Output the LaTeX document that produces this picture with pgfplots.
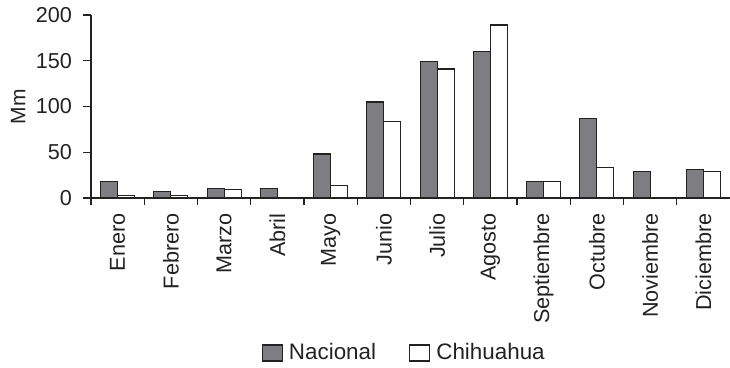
\documentclass[border=0pt]{standalone}
\usepackage{fontspec}
\setmainfont{Liberation Sans}
\usepackage{pgfplots}
\pgfplotsset{compat=1.18}
\definecolor{nacgray}{HTML}{7E7E82}
\definecolor{edge}{HTML}{222222}
\begin{document}
\begin{tikzpicture}
\begin{axis}[
  name=ax, at={(0,0)}, anchor=south west,
  scale only axis, width=319.5pt, height=91.5pt,
  ybar=0pt, bar width=8.5pt,
  xmin=-0.5, xmax=11.5, ymin=0, ymax=200,
  axis lines=left,
  axis line style={-, draw=edge, line width=0.6pt},
  every tick/.style={draw=edge, line width=0.6pt},
  tick align=outside,
  major tick length=4pt, minor tick length=3.5pt,
  xtick={0,...,11},
  xticklabels={Enero,Febrero,Marzo,Abril,Mayo,Junio,Julio,Agosto,Septiembre,Octubre,Noviembre,Diciembre},
  major x tick style={draw=none},
  minor xtick={-0.5,0.5,...,10.5},
  ytick={0,50,100,150,200},
  /pgf/number format/assume math mode=true,
  tick label style={font=\fontsize{10.8}{12}\selectfont, text=edge},
  xticklabel style={rotate=90, anchor=east, inner sep=0pt},
  xticklabel shift=3.5pt,
  yticklabel shift=2pt,
  ylabel={Mm},
  ylabel style={font=\fontsize{10.5}{12}\selectfont, text=edge, at={(axis description cs:-0.114,0.5)}, anchor=center},
  legend columns=2,
  legend style={draw=none, font=\fontsize{11.2}{12}\selectfont, text=edge,
    at={(axis description cs:0.491,-0.847)}, anchor=center,
    /tikz/every odd column/.append style={column sep=1.5pt},
    /tikz/every even column/.append style={column sep=15pt},
    nodes={inner sep=1.5pt}},
  legend image code/.code={\draw[#1, bar shift=0pt] (0pt,-4pt) rectangle (10pt,4pt);},
]
\addplot[fill=nacgray, draw=edge, line width=0.6pt] coordinates {
  (0,18) (1,7) (2,10.5) (3,10.5) (4,48) (5,105)
  (6,149) (7,160) (8,18) (9,87) (10,29) (11,31)};
\addplot[fill=white, draw=edge, line width=0.6pt] coordinates {
  (0,3) (1,3) (2,9.5) (3,0) (4,13.5) (5,84)
  (6,141) (7,189) (8,18) (9,33.5) (10,0) (11,29)};
\legend{Nacional, Chihuahua}
\end{axis}
\pgfresetboundingbox
\path ([shift={(-45.5pt,-84.5pt)}]ax.south west) rectangle ([yshift=7.5pt]ax.north east);
\end{tikzpicture}
\end{document}
